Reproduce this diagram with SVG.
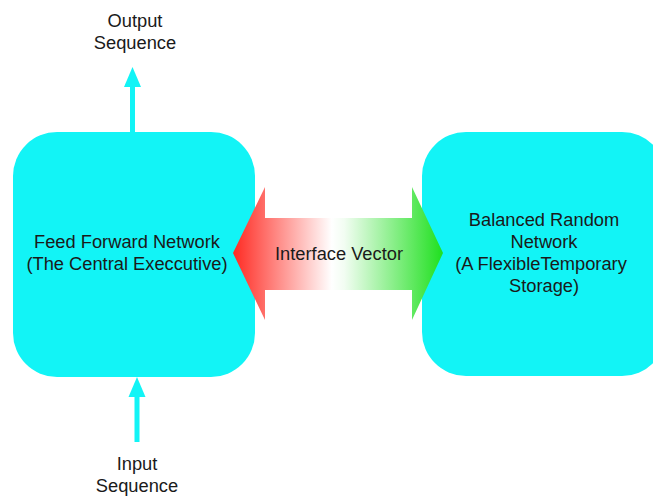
<svg xmlns="http://www.w3.org/2000/svg" width="653" height="498" viewBox="0 0 653 498">
  <defs>
    <linearGradient id="ivGrad" x1="233" y1="0" x2="443" y2="0" gradientUnits="userSpaceOnUse">
      <stop offset="0" stop-color="#ff2a22"/>
      <stop offset="0.47" stop-color="#ffffff"/>
      <stop offset="0.53" stop-color="#f2fdf2"/>
      <stop offset="1" stop-color="#1fe01f"/>
    </linearGradient>
  </defs>
  <style>
    .box { fill: #12f4f6; }
    .flow { fill: #12f4f6; }
    .lbl { font-family: "Liberation Sans", Arial, Helvetica, sans-serif; font-size: 18.3px; fill: #1a1a1a; text-anchor: middle; }
  </style>
  <rect width="653" height="498" fill="#ffffff"/>

  <g id="node-ffn">
    <rect class="box" x="13" y="132" width="242" height="245" rx="44" ry="44"/>
    <text class="lbl" x="127" y="248">Feed Forward Network</text>
    <text class="lbl" x="127" y="270">(The Central Execcutive)</text>
  </g>

  <g id="node-brn">
    <rect class="box" x="422" y="132" width="244" height="244" rx="44" ry="44"/>
    <text class="lbl" x="544" y="226">Balanced Random</text>
    <text class="lbl" x="544" y="248">Network</text>
    <text class="lbl" x="541" y="270">(A FlexibleTemporary</text>
    <text class="lbl" x="544" y="292">Storage)</text>
  </g>

  <g id="node-output">
    <text class="lbl" x="135" y="27">Output</text>
    <text class="lbl" x="135" y="49">Sequence</text>
  </g>

  <g id="node-input">
    <text class="lbl" x="137" y="470">Input</text>
    <text class="lbl" x="137" y="492">Sequence</text>
  </g>

  <g id="connectors">
    <g id="conn-output">
      <rect class="flow" x="130" y="84" width="5" height="48"/>
      <polygon class="flow" points="132.5,67 141,87 124,87"/>
    </g>
    <g id="conn-input">
      <rect class="flow" x="134.5" y="394" width="5" height="48"/>
      <polygon class="flow" points="137,377 145.5,397 128.5,397"/>
    </g>
    <g id="conn-interface">
      <polygon fill="url(#ivGrad)" points="233,253 265,187 265,218 412,218 412,187 443,253 412,320 412,290 265,290 265,320"/>
      <text class="lbl" x="339" y="260">Interface Vector</text>
    </g>
  </g>
</svg>
